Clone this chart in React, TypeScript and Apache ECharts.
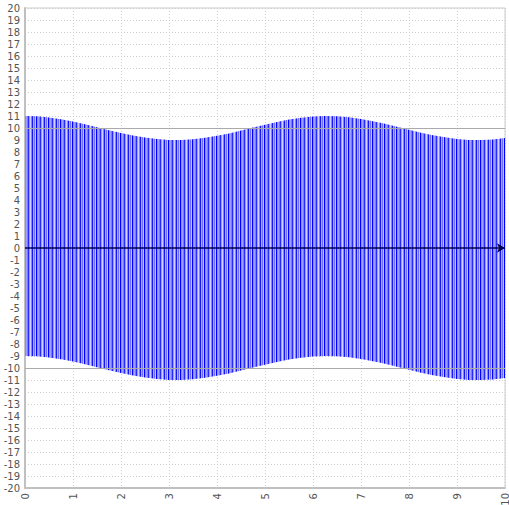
import React, { useEffect, useRef } from "react";
import * as echarts from "echarts";

// Sample positions along x where the envelope of the dense oscillation was read
const xSamples = [
  0, 0.25, 0.5, 0.75, 1, 1.25, 1.5, 1.75, 2, 2.25, 2.5, 2.75, 3, 3.25, 3.5, 3.75,
  4, 4.25, 4.5, 4.75, 5, 5.25, 5.5, 5.75, 6, 6.25, 6.5, 6.75, 7, 7.25, 7.5, 7.75,
  8, 8.25, 8.5, 8.75, 9, 9.25, 9.5, 9.75, 10,
];

// Upper envelope of the blue signal
const upperEnvelope = [
  11, 10.97, 10.88, 10.73, 10.54, 10.32, 10.07, 9.82, 9.58, 9.37, 9.2, 9.08, 9.01,
  9.01, 9.06, 9.18, 9.35, 9.55, 9.79, 10.04, 10.28, 10.51, 10.71, 10.86, 10.96, 11,
  10.98, 10.89, 10.75, 10.57, 10.35, 10.1, 9.85, 9.61, 9.4, 9.22, 9.09, 9.01, 9.0,
  9.05, 9.16,
];

// Lower envelope of the blue signal
const lowerEnvelope = [
  -9, -9.03, -9.12, -9.27, -9.46, -9.68, -9.93, -10.18, -10.42, -10.63, -10.8,
  -10.92, -10.99, -10.99, -10.94, -10.82, -10.65, -10.45, -10.21, -9.96, -9.72,
  -9.49, -9.29, -9.14, -9.04, -9, -9.02, -9.11, -9.25, -9.43, -9.65, -9.9, -10.15,
  -10.39, -10.6, -10.78, -10.91, -10.99, -11, -10.95, -10.84,
];

// Reference lines
const referenceLevels = [10, -10];
const zeroLevel = 0;

const stripeColors = [
  "#0000ff", "#8888ff", "#a0a0ff", "#7a7aff", "#2a2aff", "#9898ff",
  "#d0d0ff", "#8484ff", "#1515ff", "#a8a8ff", "#7070ff", "#c0c0ff",
];

export default function App() {
  const ref = useRef<HTMLDivElement>(null);

  useEffect(() => {
    document.body.style.margin = "0";
    const chart = echarts.init(ref.current!, null, { renderer: "svg" });

    const canvas = document.createElement("canvas");
    canvas.width = stripeColors.length;
    canvas.height = 4;
    const ctx = canvas.getContext("2d")!;
    stripeColors.forEach((col, i) => {
      ctx.fillStyle = col;
      ctx.fillRect(i, 0, 1, 4);
    });

    const labelStyle = {
      fontSize: 10,
      color: "#555",
      fontFamily: "DejaVu Sans",
    };

    const option: any = {
      animation: false,
      grid: {
        left: 25,
        right: 4,
        top: 8,
        bottom: 17,
        show: true,
        borderColor: "#cccccc",
        borderWidth: 1,
        outerBoundsMode: "none",
        containLabel: false,
      },
      xAxis: {
        type: "value",
        min: 0,
        max: 10,
        interval: 1,
        axisLine: { show: true, onZero: false, lineStyle: { color: "#c0c0c0", width: 2 } },
        axisTick: { show: false },
        splitLine: { show: true, lineStyle: { type: [1, 2], color: "#cccccc" } },
        axisLabel: { ...labelStyle, rotate: 90, margin: 5 },
      },
      yAxis: {
        type: "value",
        min: -20,
        max: 20,
        interval: 1,
        axisLine: { show: true, lineStyle: { color: "#c0c0c0", width: 2 } },
        axisTick: { show: false },
        splitLine: { show: true, lineStyle: { type: [1, 2], color: "#cccccc" } },
        axisLabel: { ...labelStyle, margin: 5 },
      },
      series: [
        {
          type: "line",
          data: [],
          z: 1,
          markLine: {
            silent: true,
            symbol: ["none", "none"],
            label: { show: false },
            lineStyle: { color: "#aaaaaa", width: 1, type: "solid" },
            data: referenceLevels.map((v) => ({ yAxis: v })),
          },
        },
        {
          type: "custom",
          z: 2,
          clip: true,
          data: [[0, 0]],
          renderItem: (params: any, api: any) => {
            const pts: number[][] = [];
            for (let i = 0; i < xSamples.length; i++) {
              pts.push(api.coord([xSamples[i], upperEnvelope[i]]));
            }
            for (let i = xSamples.length - 1; i >= 0; i--) {
              pts.push(api.coord([xSamples[i], lowerEnvelope[i]]));
            }
            return {
              type: "polygon",
              shape: { points: pts },
              style: { fill: { image: canvas, repeat: "repeat" }, stroke: null },
            };
          },
        },
        {
          type: "line",
          data: [],
          z: 5,
          markLine: {
            silent: true,
            symbol: ["none", "arrow"],
            symbolSize: [7, 8],
            label: { show: false },
            lineStyle: { color: "#000050", width: 1.5, type: "solid" },
            data: [{ yAxis: zeroLevel }],
          },
        },
      ],
    };

    chart.setOption(option);
    return () => chart.dispose();
  }, []);

  return <div ref={ref} style={{ width: 509, height: 505 }} />;
}
